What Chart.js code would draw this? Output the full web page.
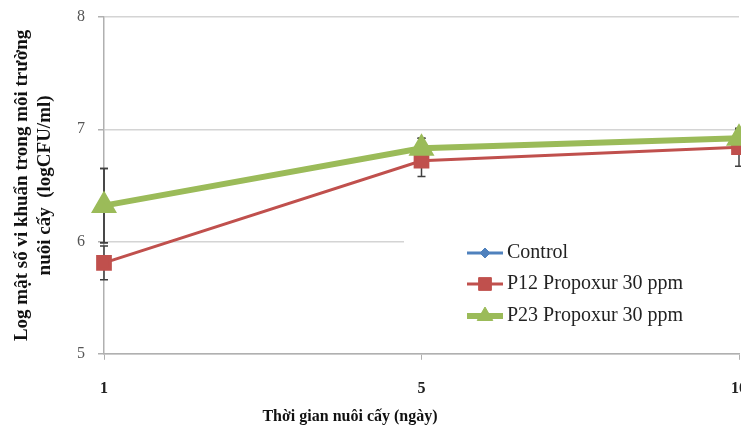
<!DOCTYPE html>
<html>
<head>
<meta charset="utf-8">
<script src="https://cdn.jsdelivr.net/npm/chart.js@4.4.1/dist/chart.umd.min.js"></script>
<style>
html, body { margin: 0; padding: 0; background: #fff; overflow: hidden; }
#wrap { width: 766px; height: 428px; }
</style>
</head>
<body>
<div id="wrap"><canvas id="myChart"></canvas></div>
<script>
const days = ['1', '5', '10'];
const seriesNames = ['Control', 'P12 Propoxur 30 ppm', 'P23 Propoxur 30 ppm'];
const controlVals = [6.32, 6.83, 6.92];
const p12Vals = [5.81, 6.72, 6.84];
const p23Vals = [6.32, 6.83, 6.92];
const controlErr = [0.33, 0.09, 0.08];
const p12Err = [0.15, 0.14, 0.17];
const p23Err = [0.33, 0.09, 0.08];
const yTicks = [5, 6, 7, 8];
const xTitle = 'Thời gian nuôi cấy (ngày)';
const yTitle = ['Log mật số vi khuẩn trong môi trường', 'nuôi cấy  (logCFU/ml)'];

const serif = "'Liberation Serif', 'Times New Roman', serif";
const ctx = document.getElementById('myChart');

// error bars, drawn under the markers
const errorBars = {
    id: 'errorBars',
    beforeDatasetsDraw(chart) {
        const c = chart.ctx;
        const x = chart.scales.x, y = chart.scales.y;
        c.save();
        c.strokeStyle = '#404040';
        c.lineWidth = 1.5;
        chart.data.datasets.forEach(ds => {
            ds.data.forEach((v, i) => {
                const e = ds.errors[i];
                const px = x.getPixelForValue(i);
                const top = y.getPixelForValue(v + e);
                const bot = y.getPixelForValue(v - e);
                c.beginPath();
                c.moveTo(px, top); c.lineTo(px, bot);
                c.moveTo(px - 4, top); c.lineTo(px + 4, top);
                c.moveTo(px - 4, bot); c.lineTo(px + 4, bot);
                c.stroke();
            });
        });
        c.restore();
    }
};

// legend box inside the plot + x axis title
const boxLegend = {
    id: 'boxLegend',
    afterDraw(chart) {
        const c = chart.ctx;
        c.save();
        c.fillStyle = '#fff';
        c.fillRect(404, 232, chart.width - 404, 100);
        c.font = '20px ' + serif;
        c.textBaseline = 'middle';
        const rows = [253, 284, 316];
        chart.data.datasets.forEach((ds, i) => {
            const yy = rows[i];
            c.strokeStyle = ds.borderColor;
            c.lineWidth = ds.borderWidth;
            c.beginPath();
            c.moveTo(467, yy); c.lineTo(503, yy);
            c.stroke();
            c.fillStyle = ds.pointBackgroundColor;
            c.strokeStyle = ds.pointBorderColor;
            c.lineWidth = 1;
            Chart.helpers.drawPoint(c, { pointStyle: ds.pointStyle, radius: ds.pointRadius, rotation: 0, borderWidth: 1 }, 485, yy);
            c.fillStyle = '#222';
            c.fillText(seriesNames[i], 507, yy);
        });
        c.font = 'bold 16px ' + serif;
        c.textAlign = 'center';
        c.fillStyle = '#111';
        c.fillText(xTitle, 350, 417);
        c.restore();
    }
};

new Chart(ctx, {
    type: 'line',
    data: {
        labels: days,
        datasets: [{
            label: seriesNames[0],
            data: controlVals,
            errors: controlErr,
            borderColor: '#4f81bd',
            backgroundColor: '#4f81bd',
            pointBackgroundColor: '#4f81bd',
            pointBorderColor: '#4f81bd',
            borderWidth: 3,
            pointStyle: 'rectRot',
            pointRadius: 5,
            order: 2
        }, {
            label: seriesNames[1],
            data: p12Vals,
            errors: p12Err,
            borderColor: '#c0504d',
            backgroundColor: '#c0504d',
            pointBackgroundColor: '#c0504d',
            pointBorderColor: '#c0504d',
            borderWidth: 3,
            pointStyle: 'rect',
            pointRadius: 9,
            order: 1
        }, {
            label: seriesNames[2],
            data: p23Vals,
            errors: p23Err,
            borderColor: '#9bbb59',
            backgroundColor: '#9bbb59',
            pointBackgroundColor: '#9bbb59',
            pointBorderColor: '#9bbb59',
            borderWidth: 6,
            pointStyle: 'triangle',
            pointRadius: 9,
            order: 0
        }]
    },
    options: {
        responsive: true,
        maintainAspectRatio: false,
        animation: false,
        layout: {
            padding: { top: 17, bottom: 11, right: 0, left: 0 }
        },
        scales: {
            x: {
                offset: false,
                grid: {
                    display: true,
                    drawOnChartArea: false,
                    drawTicks: true,
                    tickLength: 6,
                    color: '#b0b0b0'
                },
                border: { display: true, color: '#b0b0b0', width: 1.5 },
                ticks: {
                    padding: 19,
                    color: '#222',
                    font: { family: serif, size: 16, weight: 'bold' },
                    maxRotation: 0
                }
            },
            y: {
                min: 5,
                max: 8,
                afterBuildTicks: s => { s.ticks = yTicks.map(v => ({ value: v })); },
                afterFit: s => { s.width = 104; s.paddingTop = 0; s.paddingBottom = 0; },
                grid: {
                    color: '#d4d4d4',
                    lineWidth: 1.5,
                    tickLength: 6,
                    tickColor: '#b0b0b0'
                },
                border: { display: true, color: '#b0b0b0', width: 1.5 },
                ticks: {
                    padding: 13,
                    color: '#555',
                    font: { family: serif, size: 16 }
                },
                title: {
                    display: true,
                    text: yTitle,
                    color: '#111',
                    padding: { top: 11, bottom: 4 },
                    font: { family: serif, size: 19, weight: 'bold', lineHeight: 1.2 }
                }
            }
        },
        plugins: {
            legend: { display: false },
            tooltip: { enabled: false }
        }
    },
    plugins: [errorBars, boxLegend]
});
</script>
</body>
</html>
